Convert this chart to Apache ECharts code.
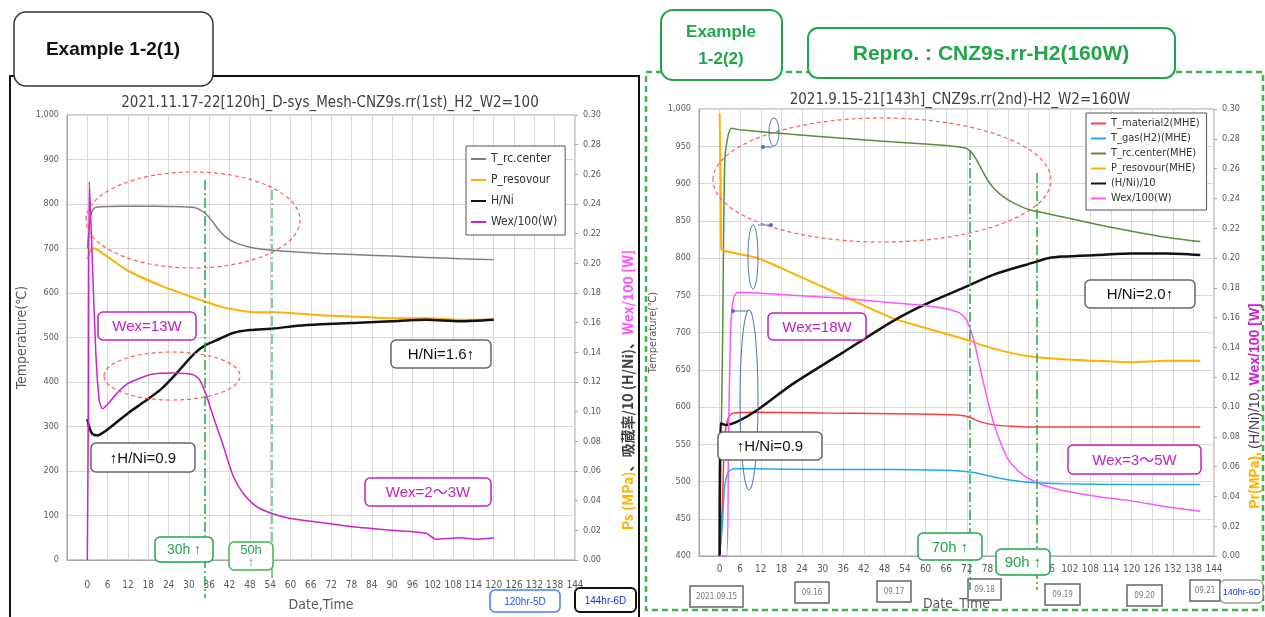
<!DOCTYPE html>
<html><head><meta charset="utf-8">
<script src="https://cdn.jsdelivr.net/npm/echarts@6/dist/echarts.min.js"></script>
<style>html,body{margin:0;padding:0;background:#fff}#c{width:1265px;height:617px}</style>
</head><body><div id="c"></div><script>
// ===== Left chart: 2021.11.17-22 (hours vs value) =====
const L_rc_t  = [0, 0.5, 1, 1.8, 3, 10, 20, 28, 31.5, 33, 35, 37, 39, 41.5, 44, 47.5, 51, 55, 62, 69, 80, 90, 100, 110, 120];
const L_rc_v  = [700, 740, 775, 789, 793, 795, 795, 794, 792, 788, 778, 760, 740, 722, 712, 704, 699, 696, 692, 689, 686, 683, 680, 677, 675];
const L_pr_t  = [0, 1, 2, 5, 12, 21.7, 30, 35, 39, 43, 50, 55, 69, 80, 90, 100, 110, 120];
const L_pr_v  = [0.203, 0.209, 0.210, 0.206, 0.195, 0.185, 0.178, 0.174, 0.171, 0.169, 0.167, 0.167, 0.165, 0.164, 0.163, 0.163, 0.162, 0.162];
const L_hn_t  = [0, 0.5, 1.5, 3, 6, 12, 17, 21.7, 26, 31.5, 35, 39, 43, 48, 55, 62, 69, 80, 90, 100, 110, 120];
const L_hn_v  = [0.095, 0.090, 0.085, 0.084, 0.088, 0.099, 0.107, 0.115, 0.125, 0.139, 0.145, 0.149, 0.153, 0.155, 0.156, 0.158, 0.159, 0.160, 0.161, 0.162, 0.161, 0.162];
const L_wx_t  = [0, 0.3, 0.6, 1.5, 2.5, 3.5, 4.5, 6, 9, 12, 15, 18.7, 25, 31, 33, 35, 37, 40, 43, 46, 50, 55, 60, 70, 80, 90, 100, 103, 110, 115, 120];
const L_wx_v  = [0.000, 0.100, 0.255, 0.200, 0.140, 0.108, 0.102, 0.105, 0.113, 0.119, 0.122, 0.125, 0.126, 0.125, 0.122, 0.112, 0.098, 0.078, 0.057, 0.045, 0.036, 0.031, 0.028, 0.025, 0.022, 0.020, 0.018, 0.014, 0.015, 0.014, 0.015];

// ===== Right chart: 2021.9.15-21 =====
const R_tm_t  = [0, 0.8, 1.5, 2.5, 4, 10, 30, 50, 65, 70, 73, 76, 80, 85, 90, 100, 120, 140];
const R_tm_v  = [400, 470, 560, 585, 592, 593, 592, 591, 590, 589, 586, 580, 576, 574, 573, 573, 573, 573];
const R_tg_t  = [0, 0.8, 1.5, 2.5, 4, 10, 30, 50, 65, 70, 74, 78, 82, 86, 90, 100, 120, 140];
const R_tg_v  = [400, 440, 495, 512, 517, 517, 516, 516, 515, 514, 512, 508, 504, 501, 499, 497, 496, 496];
const R_rc_t  = [0, 0.9, 1.5, 2.5, 3.5, 6, 21, 35, 50, 60, 68, 72, 74, 76, 78, 80, 83, 86, 90, 95, 100, 110, 120, 130, 140];
const R_rc_v  = [400, 700, 930, 965, 974, 972, 966, 961, 956, 953, 950, 947, 938, 922, 905, 893, 881, 873, 865, 860, 855, 845, 836, 828, 822];
const R_pr_t  = [0, 0.3, 0.5, 1, 5, 11, 21, 35.5, 50, 60, 72, 80, 90, 100, 110, 120, 130, 140];
const R_pr_v  = [0.297, 0.250, 0.206, 0.205, 0.203, 0.200, 0.190, 0.175, 0.160, 0.153, 0.145, 0.139, 0.134, 0.132, 0.131, 0.130, 0.131, 0.131];
const R_hn_t  = [0, 0.2, 1.8, 5, 11, 21, 35.5, 50, 60, 72, 80, 90, 96, 100, 110, 120, 130, 140];
const R_hn_v  = [0.000, 0.089, 0.088, 0.090, 0.098, 0.115, 0.136, 0.157, 0.169, 0.181, 0.189, 0.196, 0.200, 0.201, 0.202, 0.203, 0.203, 0.202];
const R_wx_t  = [0, 2, 2.6, 3.2, 4, 5.3, 21, 35.5, 50, 60, 66, 70, 72, 74, 76, 78, 80, 82, 84, 87, 90, 95, 100, 110, 120, 130, 140];
const R_wx_v  = [0.000, 0.000, 0.080, 0.150, 0.172, 0.177, 0.175, 0.173, 0.170, 0.168, 0.166, 0.163, 0.158, 0.145, 0.125, 0.105, 0.088, 0.075, 0.065, 0.057, 0.052, 0.047, 0.044, 0.040, 0.037, 0.033, 0.030];

const L_names = ['T_rc.center', 'P_resovour', 'H/Ni', 'Wex/100(W)'];
const R_names = ['T_material2(MHE)', 'T_gas(H2)(MHE)', 'T_rc.center(MHE)', 'P_resovour(MHE)', '(H/Ni)/10', 'Wex/100(W) '];
const R_dates = ['2021.09.15', '09.16', '09.17', '09.18', '09.19', '09.20', '09.21'];

const FF = "'Liberation Sans Narrow','DejaVu Sans Condensed','Liberation Sans',sans-serif";
const pts = (t, v) => t.map((x, i) => [x, v[i]]);
const xFmt = v => (v < 0 ? '' : String(v));

function line(name, xi, yi, data, color, width) {
  return { name, type: 'line', xAxisIndex: xi, yAxisIndex: yi, data, color,
    showSymbol: false, symbol: 'none', smooth: 0.25, lineStyle: { width: width || 1.5, color } };
}

const axisLbl = (extra) => Object.assign({ fontSize: 10, color: '#595959', fontFamily: FF }, extra);
const gridLine = { show: true, lineStyle: { color: '#D9D9D9', width: 1 } };

function xAx(gi, margin, name, gap) {
  return { type: 'value', gridIndex: gi, min: -6, max: 144, interval: 6,
    axisLabel: axisLbl({ formatter: xFmt, margin }), axisTick: { show: false },
    axisLine: { show: true, onZero: false, lineStyle: { color: '#A6A6A6' } }, splitLine: gridLine,
    name, nameLocation: 'middle', nameGap: gap,
    nameTextStyle: { fontSize: 14, color: '#595959', fontFamily: FF } };
}

// ---- graphic helpers (annotations) ----
const G = [];
function rect(x, y, w, h, stroke, lw, r, fill, dash, z) {
  G.push({ type: 'rect', z: z || 50, shape: { x, y, width: w, height: h, r: r || 0 },
    style: { fill: fill === undefined ? '#fff' : fill, stroke, lineWidth: lw, lineDash: dash || null } });
}
function txt(x, y, text, fill, size, weight, extra) {
  G.push({ type: 'text', z: 60, x, y, style: Object.assign({ text, fill, fontSize: size, fontWeight: weight || 'normal',
    fontFamily: "'Liberation Sans',Arial,'Noto Sans CJK JP',sans-serif", align: 'center', verticalAlign: 'middle',
    textAlign: 'center', textVerticalAlign: 'middle' }, extra || {}) });
}
function box(x, y, w, h, text, stroke, color, size, lw) {
  rect(x, y, w, h, stroke, lw || 1.5, 5, '#fff', null, 55);
  txt(x + w / 2, y + h / 2 + 1, text, color, size);
}
function ell(cx, cy, rx, ry, stroke, lw, dash) {
  G.push({ type: 'ellipse', z: 45, shape: { cx, cy, rx, ry },
    style: { fill: null, stroke, lineWidth: lw, lineDash: dash || null } });
}
function seg(x1, y1, x2, y2, stroke, lw, dash, z) {
  G.push({ type: 'line', z: z || 45, shape: { x1, y1, x2, y2 }, style: { stroke, lineWidth: lw, lineDash: dash || null } });
}
function dot(cx, cy, r, fill) { G.push({ type: 'circle', z: 46, shape: { cx, cy, r }, style: { fill } }); }

const GREEN = '#1FA64A', MAG = '#C21FC2', RED = '#FF5B5B', DASHDOT = [10, 3, 2, 3];

// frames
rect(10, 76, 629, 560, '#111', 2, 0, null, null, 1);
rect(646, 72, 617, 538, '#3DB54A', 2.5, 0, null, [6, 4], 1);
// headers
rect(14, 12, 199, 74, '#333', 1.5, 12, '#fff', null, 10);
txt(113, 50, 'Example 1-2(1)', '#111', 19, 'bold');
rect(661, 10, 121, 70, GREEN, 2, 12, '#fff', null, 10);
txt(721, 46, 'Example\n1-2(2)', GREEN, 17, 'bold', { lineHeight: 27 });
rect(808, 28, 367, 50, GREEN, 2, 10, '#fff', null, 10);
txt(991, 54, 'Repro. : CNZ9s.rr-H2(160W)', GREEN, 21, 'bold');
// chart titles
txt(330, 103, '2021.11.17-22[120h]_D-sys_Mesh-CNZ9s.rr(1st)_H2_W2=100', '#404040', 15, 'normal', { fontFamily: FF });
txt(960, 100, '2021.9.15-21[143h]_CNZ9s.rr(2nd)-H2_W2=160W', '#404040', 15, 'normal', { fontFamily: FF });
// rotated right-axis names
G.push({ type: 'text', z: 60, x: 628, y: 390, rotation: Math.PI / 2, style: {
  text: '{o|Ps (MPa)}{k|、吸蔵率/10 (H/Ni)、}{m|Wex/100 [W]}', align: 'center', verticalAlign: 'middle',
  textAlign: 'center', textVerticalAlign: 'middle',
  rich: { o: { fill: '#FFB000', fontSize: 14, fontWeight: 'bold', fontFamily: "'Noto Sans CJK JP',sans-serif" },
          k: { fill: '#404040', fontSize: 14, fontWeight: 'bold', fontFamily: "'Noto Sans CJK JP',sans-serif" },
          m: { fill: '#FF55FF', fontSize: 14, fontWeight: 'bold', fontFamily: "'Noto Sans CJK JP',sans-serif" } } } });
G.push({ type: 'text', z: 60, x: 1255, y: 406, rotation: Math.PI / 2, style: {
  text: '{o|Pr(MPa),} {k|(H/Ni)/10,} {m|Wex/100 [W]}', align: 'center', verticalAlign: 'middle',
  textAlign: 'center', textVerticalAlign: 'middle',
  rich: { o: { fill: '#FFB000', fontSize: 14, fontWeight: 'bold', fontFamily: "'Liberation Sans',sans-serif" },
          k: { fill: '#404040', fontSize: 14, fontFamily: "'Liberation Sans',sans-serif" },
          m: { fill: '#CC22CC', fontSize: 14, fontWeight: 'bold', fontFamily: "'Liberation Sans',sans-serif" } } } });

// left chart annotations
ell(193, 220, 107, 48, RED, 1.2, [4, 3]);
ell(172, 376, 68, 24, RED, 1.2, [4, 3]);
seg(205, 180, 205, 598, GREEN, 1.5, DASHDOT);
seg(272, 190, 272, 580, '#5CC07A', 1.5, DASHDOT);
box(98, 312, 98, 28, 'Wex=13W', MAG, MAG, 15);
box(391, 340, 100, 28, 'H/Ni=1.6↑', '#666', '#111', 15);
box(91, 443, 104, 29, '↑H/Ni=0.9', '#666', '#111', 15);
box(365, 478, 126, 28, 'Wex=2〜3W', MAG, MAG, 15);
box(155, 537, 58, 25, '30h ↑', GREEN, GREEN, 14);
rect(229, 542, 44, 28, '#3DB54A', 1.5, 5, '#fff', null, 55);
txt(251, 556, '50h\n↑', GREEN, 13, 'normal', { lineHeight: 12 });
box(490, 590, 70, 22, '120hr-5D', '#4A7BFF', '#2255FF', 10);
box(575, 588, 61, 24, '144hr-6D', '#111', '#1133EE', 10, 2);

// right chart annotations
ell(882, 180, 169, 62, RED, 1.2, [4, 3]);
ell(774, 132, 5, 14, '#4A6FC0', 1);
seg(763, 147, 773, 147, '#4A6FC0', 1); dot(763, 147, 2, '#4A6FC0');
ell(753, 257, 5, 32, '#4A6FC0', 1);
seg(758, 225, 771, 225, '#4A6FC0', 1); dot(771, 225, 2, '#4A6FC0');
ell(749, 400, 9, 90, '#4A6FC0', 1);
seg(733, 311, 748, 311, '#4A6FC0', 1); dot(733, 311, 2, '#4A6FC0');
seg(970, 150, 970, 590, GREEN, 1.5, DASHDOT);
seg(1037, 173, 1037, 590, GREEN, 1.5, DASHDOT);
box(1085, 280, 110, 28, 'H/Ni=2.0↑', '#666', '#111', 15);
box(718, 432, 104, 28, '↑H/Ni=0.9', '#666', '#111', 15);
box(768, 313, 98, 27, 'Wex=18W', MAG, MAG, 15);
box(1068, 445, 133, 29, 'Wex=3〜5W', MAG, MAG, 15);
box(918, 533, 64, 27, '70h ↑', GREEN, GREEN, 15);
box(996, 549, 54, 26, '90h ↑', GREEN, GREEN, 15);
const dateBoxes = [[690, 586, 53], [795, 582, 34], [877, 581, 34], [968, 579, 33], [1045, 584, 35], [1127, 585, 35], [1190, 580, 30]];
dateBoxes.forEach((b, i) => { rect(b[0], b[1], b[2], 21, '#666', 1.5, 0, '#fff', null, 40);
  txt(b[0] + b[2] / 2, b[1] + 11, R_dates[i], '#777', 8, 'normal', { fontFamily: FF }); });
box(1220, 580, 43, 23, '140hr-6D', '#666', '#1133EE', 9, 1);

const chart = echarts.init(document.getElementById('c'), null, { renderer: 'canvas' });
chart.setOption({
  animation: false,
  backgroundColor: '#fff',
  grid: [
    { left: 67, right: 690, top: 115, bottom: 52, show: true, borderColor: '#999', borderWidth: 1 },
    { left: 699, right: 51, top: 109, bottom: 61, show: true, borderColor: '#999', borderWidth: 1 }
  ],
  legend: [
    { data: L_names, orient: 'vertical', left: 466, top: 146, icon: 'rect', itemWidth: 15, itemHeight: 2, itemGap: 9,
      padding: [7, 8, 7, 5], borderColor: '#555', borderWidth: 1, backgroundColor: '#fff', selectedMode: false,
      textStyle: { fontSize: 12, color: '#333', fontFamily: FF } },
    { data: R_names, orient: 'vertical', left: 1086, top: 113, icon: 'rect', itemWidth: 15, itemHeight: 2, itemGap: 4,
      padding: [5, 7, 6, 5], borderColor: '#555', borderWidth: 1, backgroundColor: '#fff', selectedMode: false,
      textStyle: { fontSize: 11, color: '#333', fontFamily: FF } }
  ],
  xAxis: [ xAx(0, 20, 'Date,Time', 38), xAx(1, 8, 'Date_Time', 41) ],
  yAxis: [
    { type: 'value', gridIndex: 0, position: 'left', min: 0, max: 1000, interval: 100,
      axisLabel: axisLbl({ fontSize: 9, formatter: v => v.toLocaleString('en-US') }),
      axisLine: { show: true, onZero: false, lineStyle: { color: '#A6A6A6' } }, axisTick: { show: false }, splitLine: gridLine,
      name: 'Temperature(℃)', nameLocation: 'middle', nameGap: 38, nameRotate: 90,
      nameTextStyle: { fontSize: 14, color: '#595959', fontFamily: FF } },
    { type: 'value', gridIndex: 0, position: 'right', min: 0, max: 0.3, interval: 0.02,
      axisLabel: axisLbl({ fontSize: 9, formatter: v => v.toFixed(2), margin: 8 }),
      axisLine: { show: false, onZero: false }, axisTick: { show: true, length: 3, lineStyle: { color: '#A6A6A6' } }, splitLine: { show: false } },
    { type: 'value', gridIndex: 1, position: 'left', min: 400, max: 1000, interval: 50,
      axisLabel: axisLbl({ fontSize: 9, formatter: v => v.toLocaleString('en-US') }),
      axisLine: { show: true, onZero: false, lineStyle: { color: '#A6A6A6' } }, axisTick: { show: false }, splitLine: gridLine,
      name: 'Temperature(℃)', nameLocation: 'middle', nameGap: 40, nameRotate: 90,
      nameTextStyle: { fontSize: 11, color: '#595959', fontFamily: FF } },
    { type: 'value', gridIndex: 1, position: 'right', min: 0, max: 0.3, interval: 0.02,
      axisLabel: axisLbl({ fontSize: 9, formatter: v => v.toFixed(2), margin: 8 }),
      axisLine: { show: false, onZero: false }, axisTick: { show: true, length: 3, lineStyle: { color: '#A6A6A6' } }, splitLine: { show: false } }
  ],
  series: [
    line(L_names[0], 0, 0, pts(L_rc_t, L_rc_v), '#7F7F7F', 1.5),
    line(L_names[1], 0, 1, pts(L_pr_t, L_pr_v), '#FFB000', 2),
    line(L_names[2], 0, 1, pts(L_hn_t, L_hn_v), '#111111', 2.5),
    line(L_names[3], 0, 1, pts(L_wx_t, L_wx_v), '#CC22CC', 1.5),
    line(R_names[0], 1, 2, pts(R_tm_t, R_tm_v), '#FF3B3B', 1.5),
    line(R_names[1], 1, 2, pts(R_tg_t, R_tg_v), '#22AAF0', 1.5),
    line(R_names[2], 1, 2, pts(R_rc_t, R_rc_v), '#5B8C3A', 1.5),
    line(R_names[3], 1, 3, pts(R_pr_t, R_pr_v), '#FFB000', 2),
    line(R_names[4], 1, 3, pts(R_hn_t, R_hn_v), '#111111', 2.5),
    line(R_names[5], 1, 3, pts(R_wx_t, R_wx_v), '#FF55FF', 1.5)
  ],
  graphic: { elements: G }
});
</script></body></html>
